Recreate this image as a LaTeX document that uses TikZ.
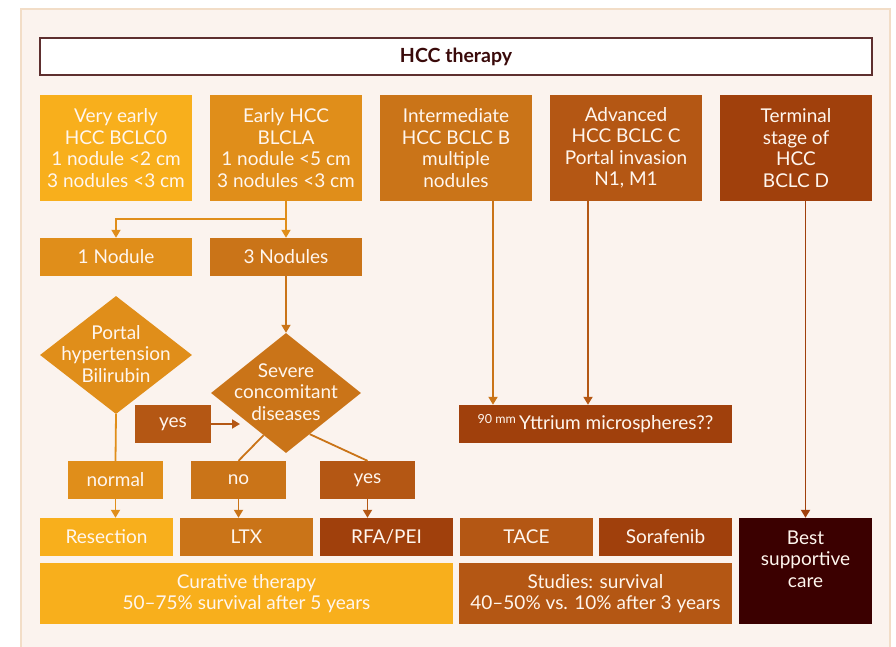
\documentclass[tikz,border=0pt]{standalone}
\usepackage{fontspec}
\setmainfont{Lato}
\usepackage{tikz}
\usetikzlibrary{arrows.meta,shapes.geometric}

\definecolor{amber}{HTML}{F8AF1C}
\definecolor{tangerine}{HTML}{E08E1A}
\definecolor{ochre}{HTML}{CA7418}
\definecolor{rust}{HTML}{B45714}
\definecolor{auburn}{HTML}{A0400C}
\definecolor{maroon}{HTML}{3B0000}
\definecolor{panelbg}{HTML}{FBF3EE}
\definecolor{panelrim}{HTML}{F2DDC7}
\definecolor{titlerim}{HTML}{5E2F2F}
\definecolor{titletext}{HTML}{3A0A0A}
\definecolor{boxtext}{HTML}{FFF6EE}

\tikzset{
  cell/.style={rectangle, inner sep=0pt, align=center, text=boxtext,
               font=\fontsize{19}{21.5}\selectfont},
  stage/.style={cell, minimum width=152pt, minimum height=106pt},
  count/.style={cell, minimum width=152pt, minimum height=38pt},
  tag/.style={cell, minimum width=95pt, minimum height=38pt},
  therapy/.style={cell, minimum width=133pt, minimum height=38pt},
  outcome/.style={cell, minimum height=61pt},
  test/.style={diamond, inner sep=0pt, minimum width=152pt, minimum height=118pt},
  link/.style={line width=1.8pt},
  flow/.style={link, -{Triangle[length=8pt,width=9pt]}},
}

\begin{document}
\begin{tikzpicture}[x=1pt, y=-1pt]
  \useasboundingbox (0,0) rectangle (896,647);
  \fill[panelbg] (21,9) rectangle (890,647);
  \draw[panelrim, line width=1.5pt] (21,647) -- (21,9) -- (890,9) -- (890,647);

  \node[draw=titlerim, line width=1.6pt, fill=white, minimum width=832pt,
        minimum height=37pt, text=titletext,
        font=\bfseries\fontsize{19.5}{22}\selectfont] (head) at (456,56.5) {HCC therapy};

  % stages
  \node[stage, fill=amber]     (veryearly) at (116,148) {Very early\\HCC BCLC0\\1 nodule <2 cm\\3 nodules <3 cm};
  \node[stage, fill=tangerine] (early)     at (286,148) {Early HCC\\BLCLA\\1 nodule <5 cm\\3 nodules <3 cm};
  \node[stage, fill=ochre]     (inter)     at (456,148) {Intermediate\\HCC BCLC B\\multiple\\nodules};
  \node[stage, fill=rust]      (adv)       at (626,148) {Advanced\\HCC BCLC C\\Portal invasion\\N1, M1};
  \node[stage, fill=auburn]    (term)      at (796,148) {Terminal\\stage of\\HCC\\BCLC D};

  \node[count, fill=tangerine] (nodOne)   at (116,257) {1 Nodule};
  \node[count, fill=ochre]     (nodThree) at (286,257) {3 Nodules};

  % decisions
  \node[test, fill=tangerine,
        label={[cell, yshift=1pt]center:Portal\\hypertension\\Bilirubin}] (portal) at (116,355) {};
  \node[test, fill=ochre, minimum width=150pt, minimum height=120pt,
        label={[cell, yshift=1pt]center:Severe\\concomitant\\diseases}] (severe) at (286,393) {};

  \node[cell, fill=rust, minimum width=76pt, minimum height=38pt] (yesL) at (173,424) {yes};
  \node[cell, fill=auburn, minimum width=273pt, minimum height=38pt] (yttr) at (595.5,424)
    {{\fontsize{12.5}{14}\selectfont\raisebox{6pt}{90 mm}}\,Yttrium microspheres??};

  \node[tag, fill=tangerine] (normal) at (115.5,480) {normal};
  \node[tag, fill=ochre]     (no)     at (238.5,480) {no};
  \node[tag, fill=rust]      (yesR)   at (367.5,480) {yes};

  % treatments
  \node[therapy, fill=amber]  (resec) at (106.5,537) {Resection};
  \node[therapy, fill=ochre]  (ltx)   at (246.5,537) {LTX};
  \node[therapy, fill=auburn] (rfa)   at (386.5,537) {RFA/PEI};
  \node[therapy, fill=rust]   (tace)  at (526.5,537) {TACE};
  \node[therapy, fill=auburn] (sora)  at (665.5,537) {Sorafenib};
  \node[cell, fill=maroon, minimum width=133pt, minimum height=106pt,
        label={[cell, yshift=12pt]center:Best\\supportive\\care}] (bsc) at (805.5,571) {};

  \node[outcome, fill=amber, minimum width=413pt] (cure)  at (246.5,593.5)
    {Curative therapy\\50--75\% survival after 5 years};
  \node[outcome, fill=rust, minimum width=273pt]  (study) at (595.5,593.5)
    {Studies: survival\\40--50\% vs. 10\% after 3 years};

  \coordinate (fork)  at (286,219);
  \coordinate (yesTip) at (240,424);

  \draw[link, tangerine] (early.south) -- (fork);
  \draw[flow, tangerine] (fork) -| (nodOne.north);
  \draw[flow, tangerine] (fork) -- (nodThree.north);
  \draw[flow, ochre] (nodThree.south) -- (severe.north);
  \draw[link, tangerine] (portal.south) -- (normal.north);
  \draw[flow, rust] (yesL.east) -- (yesTip);
  \draw[link, ochre] (severe.-118) -- (no.north);
  \draw[link, ochre] (severe.-60) -- (yesR.north);
  \draw[flow, tangerine] (normal.south) -- (resec.north -| normal.south);
  \draw[flow, ochre] (no.south) -- (ltx.north -| no.south);
  \draw[flow, rust] (yesR.south) -- (rfa.north -| yesR.south);
  \draw[flow, ochre] ([xshift=37pt]inter.south) -- ([xshift=37pt]inter.south |- yttr.north);
  \draw[flow, rust] ([xshift=-38pt]adv.south) -- ([xshift=-38pt]adv.south |- yttr.north);
  \draw[flow, auburn] (bsc.north |- term.south) -- (bsc.north);
\end{tikzpicture}
\end{document}
